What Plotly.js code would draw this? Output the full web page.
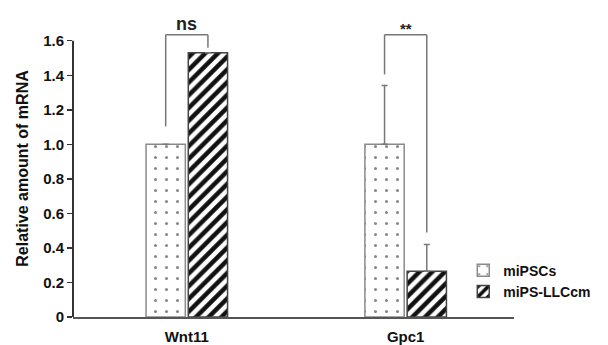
<!DOCTYPE html>
<html><head><meta charset="utf-8">
<script src="https://cdn.plot.ly/plotly-3.0.1.min.js"></script>
<style>html,body{margin:0;padding:0;background:#fff}#chart{width:608px;height:345px}</style>
</head><body><div id="chart"></div>
<script>
const genes = ["Wnt11", "Gpc1"];
const miPSCs = [1.0, 1.0];
const miPSCsErr = [null, 0.34];
const llccm = [1.53, 0.265];
const llccmErr = [null, 0.155];
const yTickVals = [0, 0.2, 0.4, 0.6, 0.8, 1.0, 1.2, 1.4, 1.6];
const yTickText = ["0", "0.2", "0.4", "0.6", "0.8", "1.0", "1.2", "1.4", "1.6"];
// significance brackets per gene
const sigLabels = ["ns", "**"];
const sigLeftY = [1.104, 1.405];
const sigTopY = [1.635, 1.635];
const sigRightY = [1.56, 0.489];

const FONT = "Liberation Sans, Arial, Helvetica, sans-serif";
const bargap = 0.614;
const halfSlot = (1 - bargap) / 4;

const errStyle = {type: "data", symmetric: false, color: "#777", thickness: 1.5, width: 3};

const traces = [
  {type: "bar", name: "miPSCs", x: genes, y: miPSCs,
   marker: {color: "#ffffff", line: {color: "#8a8a8a", width: 1.5},
            pattern: {shape: ".", fgcolor: "#888", bgcolor: "#ffffff", size: 11, solidity: 0.06}},
   error_y: Object.assign({array: miPSCsErr, arrayminus: miPSCsErr.map(() => 0)}, errStyle)},
  {type: "bar", name: "miPS-LLCcm", x: genes, y: llccm,
   marker: {color: "#ffffff", line: {color: "#444", width: 1.5},
            pattern: {shape: "/", fgcolor: "#111", bgcolor: "#ffffff", size: 9, solidity: 0.5}},
   error_y: Object.assign({array: llccmErr, arrayminus: llccmErr.map(() => 0)}, errStyle)}
];

const shapes = [
  {type: "line", xref: "paper", yref: "y", x0: 0, x1: 0, y0: 0, y1: 1.6,
   line: {color: "#333", width: 2}}
];
const annotations = [];
genes.forEach((g, i) => {
  const xl = i - halfSlot, xr = i + halfSlot;
  const ln = {color: "#777", width: 1.5};
  shapes.push({type: "line", xref: "x", yref: "y", x0: xl, x1: xl, y0: sigLeftY[i], y1: sigTopY[i], line: ln});
  shapes.push({type: "line", xref: "x", yref: "y", x0: xl, x1: xr, y0: sigTopY[i], y1: sigTopY[i], line: ln});
  shapes.push({type: "line", xref: "x", yref: "y", x0: xr, x1: xr, y0: sigTopY[i], y1: sigRightY[i], line: ln});
  annotations.push({xref: "x", yref: "y", x: i, y: sigTopY[i], yanchor: "bottom", showarrow: false,
    text: "<b>" + sigLabels[i] + "</b>", font: {family: FONT, size: i === 0 ? 18 : 15, color: "#222"},
    yshift: i === 0 ? -1 : -4});
});

const layout = {
  width: 608, height: 345,
  margin: {l: 73, r: 86, t: 20, b: 28, pad: 0},
  paper_bgcolor: "#fff", plot_bgcolor: "#fff",
  font: {family: FONT, color: "#111"},
  barmode: "group", bargap: bargap, bargroupgap: 0.07,
  showlegend: true,
  legend: {x: 0.885, xanchor: "left", y: 0.21, yanchor: "top", bgcolor: "rgba(0,0,0,0)",
           font: {family: FONT, size: 14, color: "#111", weight: "bold"}, tracegroupgap: 0, itemwidth: 30},
  xaxis: {type: "category", range: [-0.52, 1.495], showline: true, linecolor: "#555", linewidth: 1.5,
          ticks: "outside", ticklen: 5, tickcolor: "rgba(0,0,0,0)", showgrid: false, zeroline: false,
          tickfont: {family: FONT, size: 15, color: "#111", weight: "bold"}},
  yaxis: {range: [0, 1.72], showline: false, showgrid: false, zeroline: false,
          ticks: "outside", ticklen: 5, tickwidth: 1.5, tickcolor: "#333",
          tickvals: yTickVals, ticktext: yTickText,
          tickfont: {family: FONT, size: 15, color: "#111", weight: "bold"},
          title: {text: "Relative amount of mRNA", standoff: 10,
                  font: {family: FONT, size: 16, color: "#111", weight: "bold"}}},
  shapes: shapes, annotations: annotations
};
Plotly.newPlot("chart", traces, layout, {staticPlot: true});
</script></body></html>
